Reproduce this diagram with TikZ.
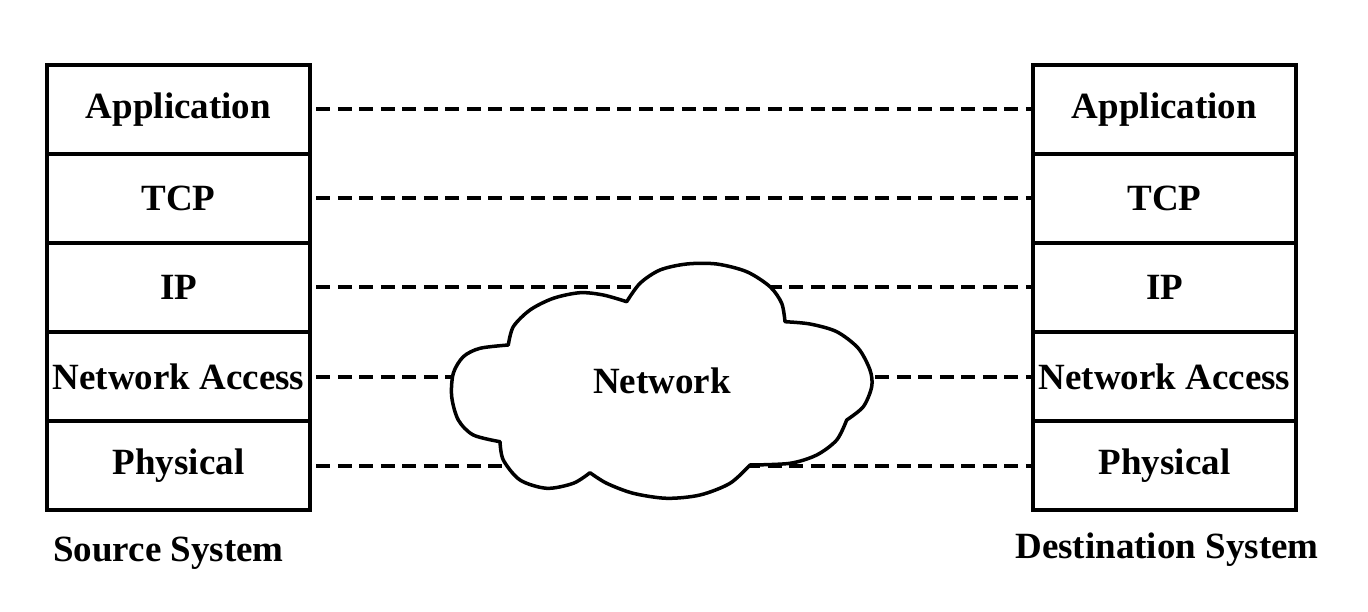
\documentclass[tikz,border=0pt]{standalone}
\usepackage{fontspec}
\setmainfont{Liberation Serif}
\newcommand{\lblfont}{\fontsize{37}{44}\selectfont\bfseries}
\begin{document}
\begin{tikzpicture}[x=1pt,y=-1pt,
  layer/.style={draw, line width=3.5pt, minimum width=263pt, minimum height=89pt, inner sep=0pt, font=\lblfont},
  link/.style={line width=4pt, dash pattern=on 14pt off 7.5pt, dash phase=17pt},
  caption/.style={inner sep=0pt, font=\lblfont},
  cloudline/.style={line width=3.5pt, fill=white, line join=round}]
\useasboundingbox (0,0) rectangle (1368,612);
% source stack
\node[layer] (la) at (178.5,109.5) {Application};
\node[layer] (lt) at (178.5,198.5) {TCP};
\node[layer] (li) at (178.5,287.5) {IP};
\node[layer] (ln) at (178.5,376.5) {Network Access};
\node[layer] (lp) at (178.5,465.5) {Physical};
% destination stack
\node[layer] (ra) at (1164.5,109.5) {Application};
\node[layer] (rt) at (1164.5,198.5) {TCP};
\node[layer] (ri) at (1164.5,287.5) {IP};
\node[layer] (rn) at (1164.5,376.5) {Network Access};
\node[layer] (rp) at (1164.5,465.5) {Physical};
% peer links
\draw[link] (la.east) -- (ra.west);
\draw[link] (lt.east) -- (rt.west);
\draw[link] (li.east) -- (ri.west);
\draw[link] (ln.east) -- (rn.west);
\draw[link] (lp.east) -- (rp.west);
% cloud
\draw[cloudline]
  plot[smooth] coordinates {(500,441.7) (473.3,435) (458.3,420) (451.7,396.7) (453.3,373.3) (463.3,356.7) (480,348.3) (508.3,345)}
  -- plot[smooth] coordinates {(508.3,345) (513.3,326.7) (530,310) (553.3,298.3) (580,292.7) (603.3,295) (626.7,301.7)}
  -- plot[smooth] coordinates {(626.7,301.7) (640,283.3) (660,270) (686.7,264) (716.7,264) (746.7,271.7) (770,286.7) (781.7,303.3) (785,321.7)}
  -- plot[smooth] coordinates {(785,321.7) (810,324) (836.7,331.7) (858.3,348.3) (870,370) (871.7,386.7) (863.3,406.7) (846.7,420)}
  -- plot[smooth] coordinates {(846.7,420) (836.7,440) (816.7,455) (790,463.3) (750,465)}
  -- plot[smooth] coordinates {(750,465) (730,483.3) (700,495) (666.7,498.3) (633.3,493.3) (606.7,483.3) (590,472.7)}
  -- plot[smooth] coordinates {(590,472.7) (573.3,483.3) (546.7,488.3) (520,480) (503.3,460) (500,441.7)}
  -- cycle;
\node[caption] (net) at (662,381) {Network};
% captions
\node[caption] (src) at (168.5,553) {Source System};
\node[caption] (dst) at (1167,550) {Destination System};
\end{tikzpicture}
\end{document}
